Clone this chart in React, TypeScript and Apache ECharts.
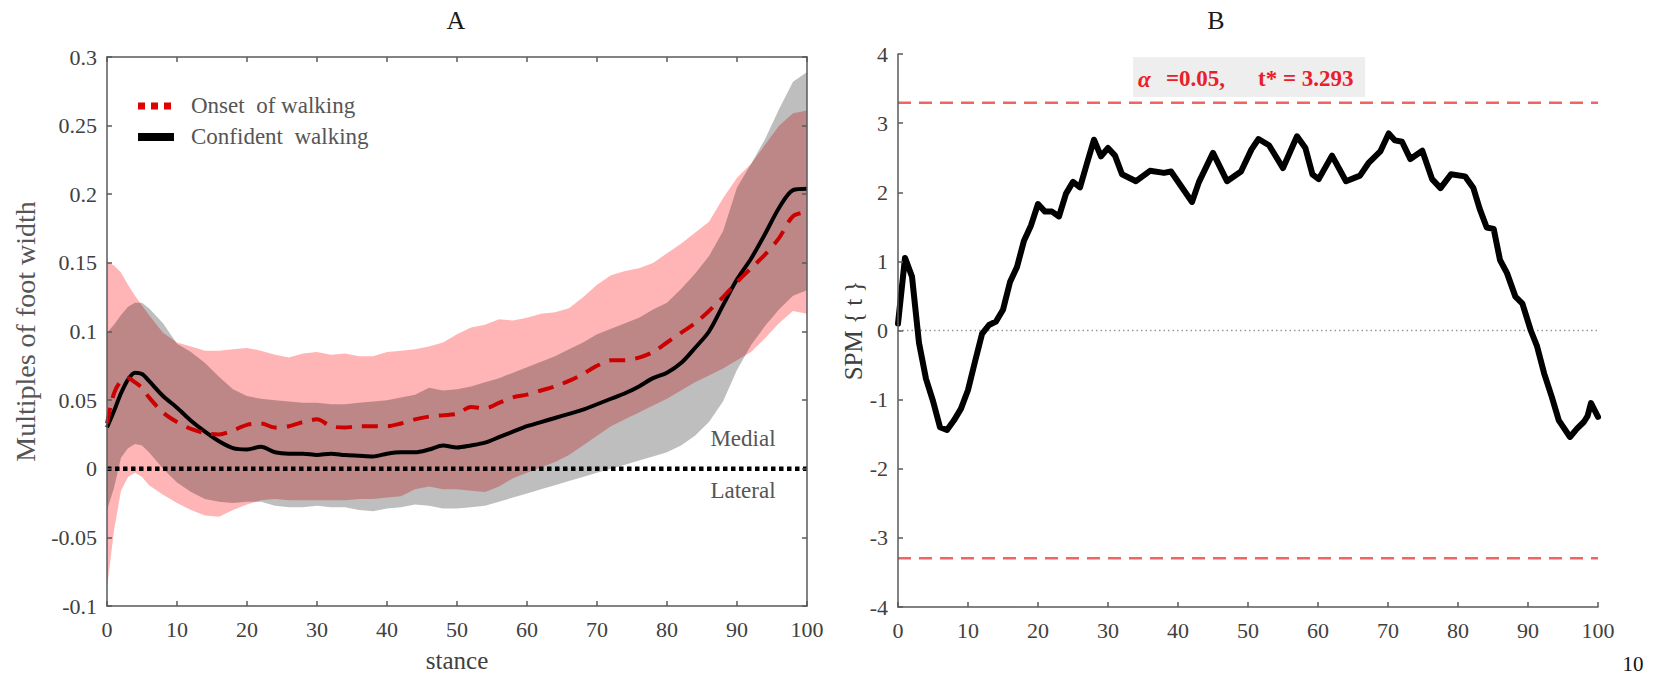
import React, { useEffect, useRef } from "react";
import * as echarts from "echarts";

// ---------- Panel A data (stance %, multiples of foot width) ----------
const stanceA = [0, 1, 2, 3, 4, 5, 6, 8, 10, 12, 14, 16, 18, 20, 22, 24, 26, 28, 30, 32, 34, 36, 38, 40, 42, 44, 46, 48, 50, 52, 54, 56, 58, 60, 62, 64, 66, 68, 70, 72, 74, 76, 78, 80, 82, 84, 86, 88, 90, 92, 94, 96, 98, 100];

const confidentMean = [0.030, 0.042, 0.055, 0.065, 0.070, 0.069, 0.064,
  0.053, 0.0445, 0.035, 0.027, 0.020, 0.015, 0.014, 0.016, 0.012, 0.011, 0.011, 0.010,
  0.011, 0.010, 0.0095, 0.009, 0.011, 0.012, 0.012, 0.014, 0.017, 0.0155,
  0.017, 0.019, 0.023, 0.027, 0.031, 0.034, 0.037, 0.040, 0.043, 0.047,
  0.051, 0.055, 0.060, 0.066, 0.070, 0.077, 0.088, 0.100, 0.119, 0.138,
  0.153, 0.171, 0.190, 0.203, 0.204];

const onsetMean = [0.033, 0.055, 0.064, 0.066, 0.063, 0.059, 0.052,
  0.041, 0.034, 0.029, 0.026, 0.025, 0.028, 0.032, 0.033, 0.030, 0.031, 0.034, 0.036,
  0.031, 0.030, 0.031, 0.031, 0.031, 0.033, 0.036, 0.038, 0.039, 0.040,
  0.045, 0.044, 0.048, 0.052, 0.054, 0.057, 0.060, 0.064, 0.069, 0.075,
  0.079, 0.079, 0.081, 0.085, 0.092, 0.099, 0.106, 0.115, 0.125, 0.136,
  0.146, 0.156, 0.168, 0.184, 0.187];

const confidentUpper = [0.099, 0.105, 0.112, 0.118, 0.121, 0.121, 0.117,
  0.106, 0.091, 0.085, 0.077, 0.067, 0.058, 0.053, 0.051, 0.050, 0.049, 0.048, 0.048,
  0.047, 0.047, 0.048, 0.049, 0.050, 0.052, 0.054, 0.059, 0.057, 0.058,
  0.060, 0.063, 0.066, 0.070, 0.074, 0.078, 0.082, 0.087, 0.092, 0.098,
  0.102, 0.106, 0.110, 0.116, 0.121, 0.131, 0.142, 0.155, 0.173, 0.205,
  0.222, 0.240, 0.262, 0.282, 0.289];

const confidentLower = [-0.030, -0.014, 0.008, 0.015, 0.018, 0.017, 0.012,
  0.000, -0.010, -0.017, -0.022, -0.024, -0.025, -0.024, -0.024, -0.027, -0.028, -0.028, -0.027,
  -0.028, -0.028, -0.030, -0.031, -0.029, -0.028, -0.026, -0.027, -0.029, -0.029,
  -0.028, -0.027, -0.024, -0.021, -0.018, -0.015, -0.012, -0.009, -0.006, -0.003,
  0.000, 0.003, 0.006, 0.009, 0.012, 0.017, 0.024, 0.034, 0.049, 0.072,
  0.090, 0.104, 0.116, 0.126, 0.130];

const onsetUpper = [0.151, 0.148, 0.143, 0.134, 0.126, 0.119, 0.112,
  0.099, 0.092, 0.089, 0.086, 0.086, 0.087, 0.088, 0.086, 0.083, 0.081, 0.084, 0.085,
  0.083, 0.084, 0.082, 0.082, 0.085, 0.086, 0.087, 0.089, 0.092, 0.098,
  0.103, 0.105, 0.109, 0.108, 0.110, 0.113, 0.114, 0.117, 0.125, 0.134,
  0.141, 0.144, 0.146, 0.150, 0.157, 0.164, 0.172, 0.180, 0.197, 0.212,
  0.222, 0.236, 0.250, 0.259, 0.261];

const onsetLower = [-0.087, -0.045, -0.016, -0.006, -0.003, -0.006, -0.012,
  -0.019, -0.025, -0.030, -0.034, -0.035, -0.030, -0.026, -0.023, -0.022, -0.023, -0.023, -0.023,
  -0.023, -0.023, -0.022, -0.022, -0.021, -0.020, -0.015, -0.013, -0.015, -0.015,
  -0.016, -0.017, -0.013, -0.007, -0.003, 0.001, 0.005, 0.010, 0.017, 0.024,
  0.031, 0.036, 0.041, 0.046, 0.051, 0.057, 0.063, 0.068, 0.073, 0.079,
  0.085, 0.095, 0.106, 0.115, 0.113];

const yTicksA = { min: -0.1, max: 0.3, step: 0.05 };
const xTicks = { min: 0, max: 100, step: 10 };

// ---------- Panel B data (SPM{t}) ----------
const spmStance = [0, 1, 2, 3, 4, 5, 6, 7, 8, 9, 10, 11, 12, 13, 14, 15, 16, 17, 18, 19, 20,
  21, 22, 23, 24, 25, 26, 27, 28, 29, 30, 31, 32, 34, 36, 38, 39, 40.5, 42, 43, 45, 47, 49,
  50.5, 51.5, 53, 55, 57, 58.2, 59.2, 60.1, 62, 64, 66, 67.2, 68.9, 70.1, 71, 72, 73.2, 74.9,
  76.3, 77.5, 79, 81, 82.2, 83.1, 84.1, 85.1, 86, 87, 88.2, 89.2, 90.4, 91.3, 92.3, 93.4,
  94.4, 96, 97, 98, 98.5, 99, 100];
const spmT = [0.10, 1.05, 0.78, -0.18, -0.70, -1.02, -1.40, -1.44, -1.30, -1.13, -0.86, -0.45, -0.05, 0.08, 0.13, 0.30, 0.70, 0.92, 1.30, 1.52, 1.83,
  1.72, 1.72, 1.65, 1.98, 2.15, 2.07, 2.42, 2.76, 2.52, 2.64, 2.53, 2.26, 2.16, 2.31, 2.28, 2.30, 2.08, 1.86, 2.15, 2.57, 2.16, 2.30,
  2.62, 2.77, 2.68, 2.35, 2.81, 2.64, 2.26, 2.19, 2.53, 2.16, 2.24, 2.42, 2.59, 2.85, 2.75, 2.73, 2.48, 2.60,
  2.19, 2.06, 2.26, 2.23, 2.06, 1.76, 1.49, 1.47, 1.02, 0.83, 0.49, 0.39, 0.00, -0.23, -0.62, -0.96,
  -1.30, -1.54, -1.42, -1.32, -1.24, -1.05, -1.25];
const tCritical = 3.293;
const alphaLevel = 0.05;
const yTicksB = { min: -4, max: 4, step: 1 };

const SERIF = "Liberation Serif";
const AXIS_COLOR = "#5a5a5a";
const LABEL_COLOR = "#404040";

const pairs = (xs: number[], ys: number[]) => xs.map((x, i) => [x, ys[i]]);

// band polygon (mean ± SD) drawn with the chart's own coordinate system
const bandSeries = (lower: number[], upper: number[], fill: string, z: number) => ({
  type: "custom",
  xAxisIndex: 0,
  yAxisIndex: 0,
  silent: true,
  z,
  data: [[stanceA[0], lower[0]]],
  renderItem: (_params: any, api: any) => {
    const top = stanceA.map((x, i) => api.coord([x, upper[i]]));
    const bottom = stanceA.map((x, i) => api.coord([x, lower[i]])).reverse();
    return {
      type: "polygon",
      shape: { points: top.concat(bottom) },
      style: { fill },
    };
  },
});

export default function App() {
  const ref = useRef<HTMLDivElement>(null);

  useEffect(() => {
    if (!ref.current) return;
    const chart = echarts.init(ref.current, undefined, { renderer: "svg" });

    const axisLine = { show: true, onZero: false, lineStyle: { color: AXIS_COLOR, width: 1.5 } };
    const tickIn = { show: true, inside: true, length: 5, lineStyle: { color: AXIS_COLOR, width: 1.5 } };
    const tickLabel = { color: LABEL_COLOR, fontFamily: SERIF, fontSize: 22 };

    chart.setOption({
      animation: false,
      textStyle: { fontFamily: SERIF },
      grid: [
        { left: 107, top: 57, width: 700, height: 550 },
        { left: 898, top: 54, width: 700, height: 553 },
      ],
      xAxis: [
        {
          gridIndex: 0, type: "value", position: "bottom", min: xTicks.min, max: xTicks.max, interval: xTicks.step, z: 10,
          axisLine, axisTick: tickIn, splitLine: { show: false },
          axisLabel: { ...tickLabel, margin: 12 },
          name: "stance", nameLocation: "middle", nameGap: 42,
          nameTextStyle: { color: LABEL_COLOR, fontFamily: SERIF, fontSize: 25 },
        },
        {
          gridIndex: 0, type: "value", position: "top", min: xTicks.min, max: xTicks.max, interval: xTicks.step, z: 10,
          axisLine, axisTick: tickIn, splitLine: { show: false }, axisLabel: { show: false },
        },
        {
          gridIndex: 1, type: "value", position: "bottom", min: xTicks.min, max: xTicks.max, interval: xTicks.step, z: 10,
          axisLine, axisTick: tickIn, splitLine: { show: false },
          axisLabel: { ...tickLabel, margin: 12 },
        },
      ],
      yAxis: [
        {
          gridIndex: 0, type: "value", position: "left", min: yTicksA.min, max: yTicksA.max, interval: yTicksA.step, z: 10,
          axisLine, axisTick: tickIn, splitLine: { show: false },
          axisLabel: { ...tickLabel, margin: 10, formatter: (v: number) => String(+v.toFixed(2)) },
          name: "Multiples of foot width", nameLocation: "middle", nameGap: 68,
          nameTextStyle: { color: "#555", fontFamily: SERIF, fontSize: 28 },
        },
        {
          gridIndex: 0, type: "value", position: "right", min: yTicksA.min, max: yTicksA.max, interval: yTicksA.step, z: 10,
          axisLine, axisTick: tickIn, splitLine: { show: false }, axisLabel: { show: false },
        },
        {
          gridIndex: 1, type: "value", position: "left", min: yTicksB.min, max: yTicksB.max, interval: yTicksB.step, z: 10,
          axisLine, axisTick: tickIn, splitLine: { show: false },
          axisLabel: { ...tickLabel, margin: 10 },
          name: "SPM { t }", nameLocation: "middle", nameGap: 29,
          nameTextStyle: { color: LABEL_COLOR, fontFamily: SERIF, fontSize: 25 },
        },
      ],
      series: [
        // Onset of walking band (mean ± SD), then Confident walking band on top
        bandSeries(onsetLower, onsetUpper, "rgba(255,0,0,0.29)", 1),
        bandSeries(confidentLower, confidentUpper, "rgba(0,0,0,0.255)", 2),
        // Medial/lateral divide
        {
          type: "line", xAxisIndex: 0, yAxisIndex: 0, symbol: "none", silent: true, z: 3,
          data: [[xTicks.min, 0], [xTicks.max, 0]],
          lineStyle: { color: "#000", width: 4.5, type: [4.5, 3.5] },
        },
        {
          type: "line", name: "Confident walking", xAxisIndex: 0, yAxisIndex: 0, symbol: "none", smooth: 0.3, z: 4,
          data: pairs(stanceA, confidentMean),
          lineStyle: { color: "#000", width: 4 },
        },
        {
          type: "line", name: "Onset of walking", xAxisIndex: 0, yAxisIndex: 0, symbol: "none", smooth: 0.3, z: 5,
          data: pairs(stanceA, onsetMean),
          lineStyle: { color: "#cc0000", width: 4, type: [16, 10] },
        },
        // Panel B
        {
          type: "line", xAxisIndex: 2, yAxisIndex: 2, symbol: "none", silent: true, z: 2,
          data: [[xTicks.min, 0], [xTicks.max, 0]],
          lineStyle: { color: "#999", width: 1.5, type: [1.5, 3] },
        },
        {
          type: "line", xAxisIndex: 2, yAxisIndex: 2, symbol: "none", silent: true, z: 2,
          data: [[xTicks.min, tCritical], [xTicks.max, tCritical]],
          lineStyle: { color: "#f06464", width: 2.5, type: [13, 8] },
        },
        {
          type: "line", xAxisIndex: 2, yAxisIndex: 2, symbol: "none", silent: true, z: 2,
          data: [[xTicks.min, -tCritical], [xTicks.max, -tCritical]],
          lineStyle: { color: "#f06464", width: 2.5, type: [13, 8] },
        },
        {
          type: "line", name: "SPM{t}", xAxisIndex: 2, yAxisIndex: 2, symbol: "none", z: 3,
          data: pairs(spmStance, spmT),
          lineStyle: { color: "#000", width: 6, cap: "round", join: "round" },
        },
      ],
      graphic: [
        { type: "text", x: 456, y: 20, style: { text: "A", font: `26px ${SERIF}`, fill: "#1a1a1a", align: "center", verticalAlign: "middle" } },
        { type: "text", x: 1216, y: 20, style: { text: "B", font: `26px ${SERIF}`, fill: "#1a1a1a", align: "center", verticalAlign: "middle" } },
        { type: "text", x: 1633, y: 664, style: { text: "10", font: `21px ${SERIF}`, fill: "#111", align: "center", verticalAlign: "middle" } },
        // legend of panel A
        { type: "line", z: 20, shape: { x1: 138, y1: 106, x2: 175, y2: 106 }, style: { stroke: "#e00000", lineWidth: 7, lineDash: [7, 6] } },
        { type: "text", z: 20, x: 191, y: 105, style: { text: "Onset  of walking", font: `23px ${SERIF}`, fill: "#555", verticalAlign: "middle" } },
        { type: "line", z: 20, shape: { x1: 138, y1: 137, x2: 174, y2: 137 }, style: { stroke: "#000", lineWidth: 8 } },
        { type: "text", z: 20, x: 191, y: 136, style: { text: "Confident  walking", font: `23px ${SERIF}`, fill: "#555", verticalAlign: "middle" } },
        { type: "text", z: 20, x: 743, y: 438, style: { text: "Medial", font: `23px ${SERIF}`, fill: "#555", align: "center", verticalAlign: "middle" } },
        { type: "text", z: 20, x: 743, y: 490, style: { text: "Lateral", font: `23px ${SERIF}`, fill: "#555", align: "center", verticalAlign: "middle" } },
        // threshold annotation of panel B
        { type: "rect", shape: { x: 1133, y: 57, width: 232, height: 40 }, style: { fill: "#eeeeee" }, z: 10 },
        { type: "text", x: 1138, y: 79, z: 11, style: { text: "α", font: `italic bold 23px ${SERIF}`, fill: "#e8202a", verticalAlign: "middle" } },
        { type: "text", x: 1166, y: 78, z: 11, style: { text: `=${alphaLevel.toFixed(2)},`, font: `bold 23px ${SERIF}`, fill: "#e8202a", verticalAlign: "middle" } },
        { type: "text", x: 1258, y: 78, z: 11, style: { text: `t* = ${tCritical.toFixed(3)}`, font: `bold 23px ${SERIF}`, fill: "#e8202a", verticalAlign: "middle" } },
      ],
    });

    return () => chart.dispose();
  }, []);

  return (
    <div
      ref={ref}
      style={{ position: "absolute", left: 0, top: 0, width: 1663, height: 678, background: "#fff" }}
    />
  );
}
